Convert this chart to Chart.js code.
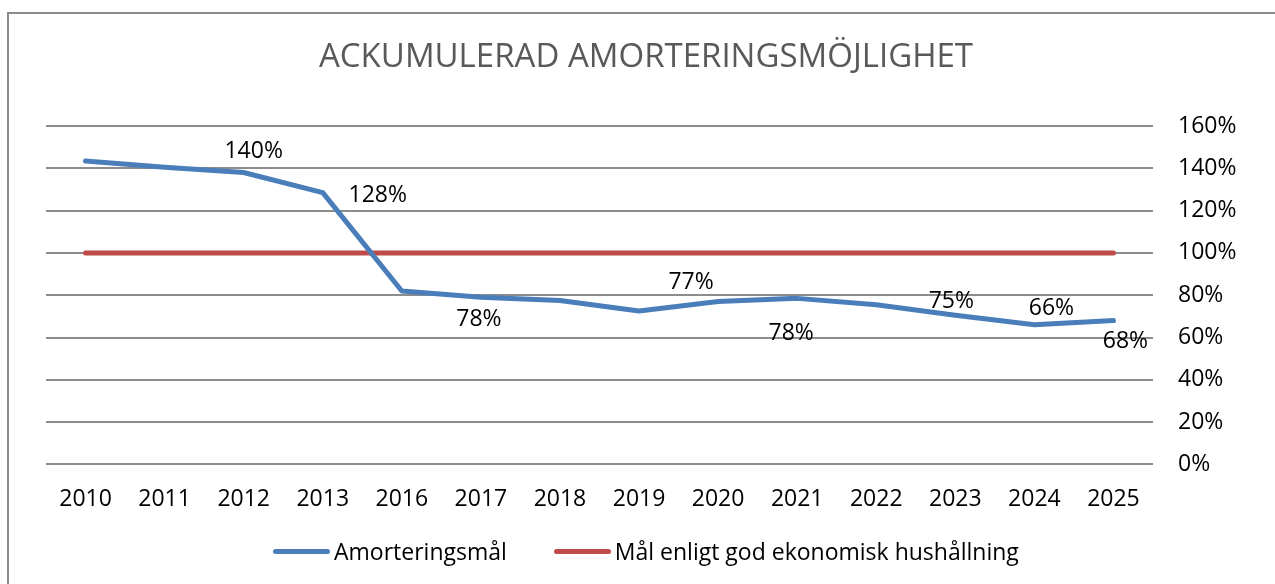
<!DOCTYPE html>
<html>
<head>
<meta charset="utf-8">
<script src="https://cdn.jsdelivr.net/npm/chart.js@4/dist/chart.umd.min.js"></script>
<style>
  html, body { margin: 0; padding: 0; width: 1275px; height: 584px; overflow: hidden; background: #fff; }
  .frame { position: absolute; left: 7px; top: 12px; width: 1400px; height: 700px;
           border-left: 2px solid #8c8c8c; border-top: 2px solid #8c8c8c; }
  .chart-container { position: absolute; left: 0; top: 0; width: 1275px; height: 584px; }
  #legend { position: absolute; left: 273px; top: 535px; display: flex; align-items: center;
            font-family: "Open Sans", sans-serif; font-size: 23px; color: #000; }
  #legend .item { display: flex; align-items: center; margin-right: 47px; }
  #legend .swatch { width: 57px; height: 5px; border-radius: 3px; margin-right: 4px; }
</style>
</head>
<body>
<div class="frame"></div>
<div class="chart-container">
  <canvas id="amorteringChart" width="1275" height="584"></canvas>
</div>
<div id="legend"></div>
<script type="text/javascript">
  // data (percent)
  var years = ["2010", "2011", "2012", "2013", "2016", "2017", "2018", "2019", "2020", "2021", "2022", "2023", "2024", "2025"];
  var amortering = [143.5, 140.5, 138, 128.5, 82, 79, 77.5, 72.5, 77, 78.5, 75.5, 70.5, 66, 68];
  var malGod = [100, 100, 100, 100, 100, 100, 100, 100, 100, 100, 100, 100, 100, 100];
  var pointLabels = [null, null, "140%", "128%", null, "78%", null, null, "77%", "78%", null, "75%", "66%", "68%"];
  var yTicks = [0, 20, 40, 60, 80, 100, 120, 140, 160];

  // where each value label sits relative to its point (px)
  var labelOffsets = [null, null, [10, -21], [55, 3], null, [-2, 22], null, null, [-27, -19], [-6, 35], null, [-4, -14], [17, -16], [12, 21]];

  var valueLabels = {
    id: 'valueLabels',
    afterDatasetsDraw: function (chart) {
      var ctx = chart.ctx;
      var meta = chart.getDatasetMeta(0);
      ctx.save();
      ctx.font = '23px "Open Sans", sans-serif';
      ctx.fillStyle = '#000';
      ctx.textAlign = 'center';
      ctx.textBaseline = 'middle';
      meta.data.forEach(function (pt, i) {
        if (!pointLabels[i]) return;
        var off = labelOffsets[i];
        ctx.fillText(pointLabels[i], pt.x + off[0], pt.y + off[1]);
      });
      ctx.restore();
    }
  };

  var chart = new Chart("amorteringChart", {
    type: "line",
    data: {
      labels: years,
      datasets: [
        {
          label: "Amorteringsmål",
          data: amortering,
          borderColor: "#4a7ebb",
          backgroundColor: "#4a7ebb",
          borderWidth: 5,
          borderCapStyle: 'round',
          borderJoinStyle: 'round',
          pointRadius: 0,
          tension: 0,
          yAxisID: 'y'
        },
        {
          label: "Mål enligt god ekonomisk hushållning",
          data: malGod,
          borderColor: "#be4b48",
          backgroundColor: "#be4b48",
          borderWidth: 5,
          borderCapStyle: 'round',
          pointRadius: 0,
          tension: 0,
          yAxisID: 'y'
        }
      ]
    },
    options: {
      responsive: false,
      animation: false,
      layout: {
        padding: { left: 17, right: 0, top: 20, bottom: 50 }
      },
      plugins: {
        legend: { display: false },
        tooltip: { enabled: false },
        title: {
          display: true,
          text: "ACKUMULERAD AMORTERINGSMÖJLIGHET",
          color: "#595959",
          font: { family: '"Open Sans", sans-serif', size: 33, weight: 'normal' },
          padding: { top: 18, bottom: 48.4 }
        }
      },
      scales: {
        x: {
          offset: true,
          grid: { display: false, drawTicks: false },
          border: { display: false },
          ticks: {
            color: "#000",
            padding: 21,
            maxRotation: 0,
            font: { family: '"Open Sans", sans-serif', size: 23 }
          }
        },
        y: {
          position: 'right',
          min: 0,
          max: 160,
          afterBuildTicks: function (scale) {
            scale.ticks = yTicks.map(function (v) { return { value: v }; });
          },
          afterFit: function (scale) { scale.width = 122; },
          grid: { color: "#8c8c8c", lineWidth: 2, drawTicks: false },
          border: { display: false },
          ticks: {
            color: "#000",
            padding: 25,
            font: { family: '"Open Sans", sans-serif', size: 23 },
            callback: function (v) { return v + '%'; }
          }
        },
        yPad: {
          position: 'left',
          min: 0,
          max: 160,
          grid: { display: false, drawTicks: false },
          border: { display: false },
          ticks: { display: false },
          afterFit: function (scale) { scale.width = 29; }
        }
      }
    },
    plugins: [valueLabels]
  });

  // legend in html, built from the datasets
  var legendEl = document.getElementById('legend');
  chart.data.datasets.forEach(function (ds) {
    var item = document.createElement('div');
    item.className = 'item';
    var sw = document.createElement('span');
    sw.className = 'swatch';
    sw.style.background = ds.borderColor;
    var txt = document.createElement('span');
    txt.textContent = ds.label;
    item.appendChild(sw);
    item.appendChild(txt);
    legendEl.appendChild(item);
  });
</script>
</body>
</html>
